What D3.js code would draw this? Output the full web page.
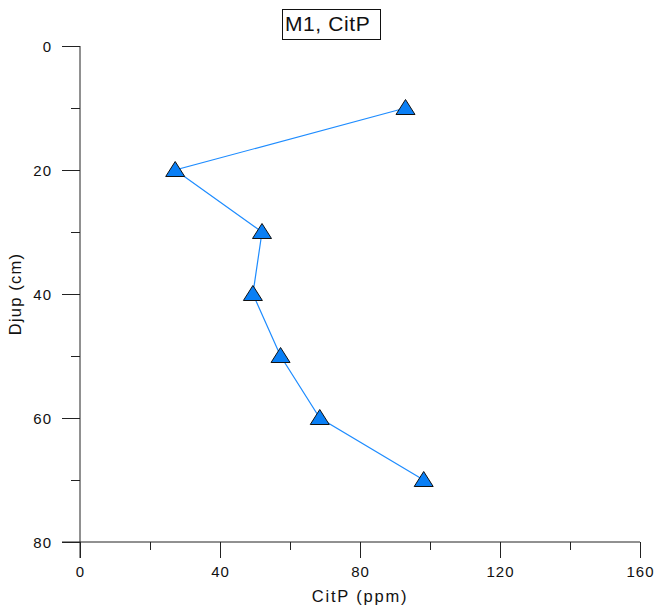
<!DOCTYPE html>
<html>
<head>
<meta charset="utf-8">
<script src="https://cdn.jsdelivr.net/npm/d3@7"></script>
<style>
  body { margin: 0; background: #fff; }
  svg { font-family: "Liberation Sans", Arial, sans-serif; }
</style>
</head>
<body>
<div id="chart"></div>
<script>
const depths = [10, 20, 30, 40, 50, 60, 70];
const citP = [93, 27.2, 52, 49.4, 57.3, 68.5, 98.2];
const xTicks = [0, 40, 80, 120, 160];
const xMinor = [20, 60, 100, 140];
const yTicks = [0, 20, 40, 60, 80];
const yMinor = [10, 30, 50, 70];
const title = "M1, CitP";

const W = 656, H = 615;
const margin = { top: 46, right: 16, bottom: 73, left: 80 };
const width = W - margin.left - margin.right;
const height = H - margin.top - margin.bottom;

const svg = d3.select("#chart").append("svg")
  .attr("width", W).attr("height", H);

const g = svg.append("g")
  .attr("transform", `translate(${margin.left},${margin.top})`);

const x = d3.scaleLinear().domain([0, 160]).range([0, width]);
const y = d3.scaleLinear().domain([0, 80]).range([0, height]);

// minor ticks
g.append("g")
  .attr("transform", `translate(0,${height})`)
  .call(d3.axisBottom(x).tickValues(xMinor).tickSize(8).tickFormat(""))
  .call(a => a.select(".domain").remove());
g.append("g")
  .call(d3.axisLeft(y).tickValues(yMinor).tickSize(9).tickFormat(""))
  .call(a => a.select(".domain").remove());

// major axes
const xAxis = g.append("g")
  .attr("transform", `translate(0,${height})`)
  .call(d3.axisBottom(x).tickValues(xTicks).tickSize(16).tickSizeOuter(0));
const yAxis = g.append("g")
  .call(d3.axisLeft(y).tickValues(yTicks).tickSize(18).tickSizeOuter(0));

g.selectAll(".tick line").attr("stroke", "#222");
g.selectAll(".domain").attr("stroke", "#222");
xAxis.selectAll("text")
  .attr("font-size", 15).attr("fill", "#111")
  .attr("letter-spacing", 1)
  .attr("font-family", "Liberation Sans, Arial, sans-serif")
  .attr("y", 35).attr("dy", 0);
yAxis.selectAll("text")
  .attr("font-size", 15).attr("fill", "#111")
  .attr("letter-spacing", 1)
  .attr("font-family", "Liberation Sans, Arial, sans-serif")
  .attr("x", -28).attr("dy", "0.36em");
// extend domain lines slightly like the original
xAxis.select(".domain").attr("d", `M-18,0H${width}`);
yAxis.select(".domain").attr("d", `M0,0V${height + 16}`);

// axis titles
svg.append("text")
  .attr("x", margin.left + width / 2)
  .attr("y", 601.5)
  .attr("text-anchor", "middle")
  .attr("font-size", 16.5)
  .attr("letter-spacing", 1.8)
  .attr("fill", "#111")
  .text("CitP (ppm)");

svg.append("text")
  .attr("transform", `translate(21,${margin.top + height / 2}) rotate(-90)`)
  .attr("text-anchor", "middle")
  .attr("font-size", 16.5)
  .attr("letter-spacing", 1.2)
  .attr("fill", "#111")
  .text("Djup (cm)");

// title in box
svg.append("rect")
  .attr("x", 282.5).attr("y", 9.5)
  .attr("width", 98).attr("height", 30)
  .attr("fill", "#fff").attr("stroke", "#111").attr("stroke-width", 1);
svg.append("text")
  .attr("x", 285)
  .attr("y", 30.5)
  .attr("font-size", 21)
  .attr("letter-spacing", 0.6)
  .attr("fill", "#111")
  .text(title);

// line
const data = depths.map((d, i) => ({ depth: d, v: citP[i] }));
const line = d3.line().x(d => x(d.v)).y(d => y(d.depth));
g.append("path")
  .datum(data)
  .attr("fill", "none")
  .attr("stroke", "#1e8cff")
  .attr("stroke-width", 1.2)
  .attr("d", line);

// triangle markers
const tri = "M0,-8.5L9.5,6.5L-9.5,6.5Z";
g.selectAll(".marker")
  .data(data)
  .join("path")
  .attr("class", "marker")
  .attr("transform", d => `translate(${x(d.v)},${y(d.depth)})`)
  .attr("d", tri)
  .attr("fill", "#0a7ff5")
  .attr("stroke", "#111")
  .attr("stroke-width", 1);
</script>
</body>
</html>
